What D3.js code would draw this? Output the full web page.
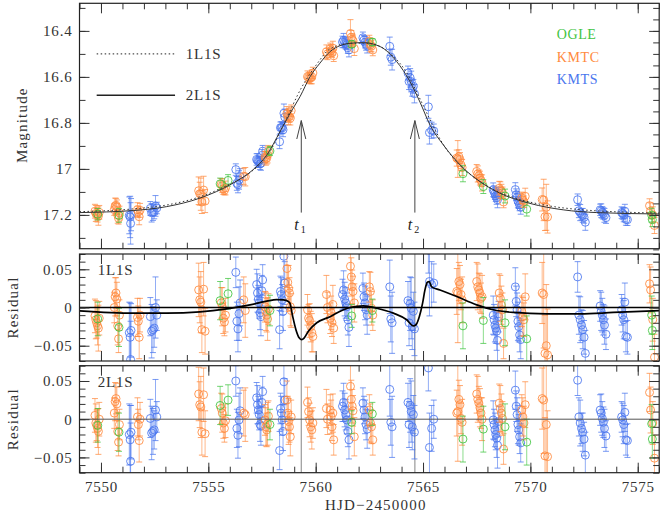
<!DOCTYPE html>
<html>
<head>
<meta charset="utf-8">
<script src="https://cdn.jsdelivr.net/npm/d3@7"></script>
<style>
    body { margin: 0; background: #fff; }
    text { font-family: "Liberation Serif", "Times New Roman", serif; }
</style>
</head>
<body>
<div class="chart"></div>
<script>
// rows: [HJD-2450000, magnitude, mag error, residual 1L1S, residual 2L1S, residual error]
const ogle = [
    [7549.85, 17.197, 0.025, -0.015, -0.008, 0.022],
    [7550.84, 17.202, 0.03, -0.026, -0.017, 0.025],
    [7555.55, 17.065, 0.025, 0.009, 0.018, 0.025],
    [7555.92, 17.050, 0.025, 0.018, 0.025, 0.02],
    [7557.87, 16.922, 0.02, -0.004, -0.007, 0.02],
    [7561.68, 16.458, 0.015, -0.011, -0.004, 0.015],
    [7562.64, 16.449, 0.015, -0.004, 0.007, 0.015],
    [7566.86, 17.021, 0.035, -0.024, -0.026, 0.03],
    [7567.81, 17.077, 0.03, -0.017, -0.013, 0.03],
    [7568.82, 17.118, 0.03, -0.02, -0.01, 0.03],
    [7569.83, 17.175, 0.03, -0.041, -0.03, 0.03],
    [7575.65, 17.201, 0.03, -0.01, -0.006, 0.025],
    [7575.68, 17.221, 0.03, -0.03, -0.026, 0.025]
];

const kmtc = [
    [7549.72, 17.184, 0.03, -0.011, 0.005, 0.022],
    [7549.76, 17.194, 0.035, -0.016, -0.005, 0.025],
    [7549.80, 17.197, 0.025, -0.020, -0.008, 0.02],
    [7549.84, 17.201, 0.03, -0.024, -0.012, 0.025],
    [7549.88, 17.205, 0.04, -0.027, -0.016, 0.03],
    [7549.92, 17.189, 0.03, -0.014, 0.0, 0.022],
    [7550.62, 17.177, 0.025, 0.0, 0.008, 0.02],
    [7550.66, 17.162, 0.035, 0.014, 0.023, 0.025],
    [7550.70, 17.158, 0.03, 0.019, 0.027, 0.02],
    [7550.74, 17.165, 0.03, 0.011, 0.02, 0.022],
    [7550.78, 17.201, 0.035, -0.024, -0.016, 0.025],
    [7550.82, 17.215, 0.025, -0.041, -0.03, 0.018],
    [7550.86, 17.192, 0.03, -0.01, -0.007, 0.02],
    [7551.70, 17.177, 0.03, -0.013, 0.003, 0.025],
    [7551.74, 17.187, 0.025, -0.018, -0.007, 0.02],
    [7551.78, 17.208, 0.035, -0.039, -0.028, 0.028],
    [7551.82, 17.180, 0.03, -0.01, 0.0, 0.022],
    [7554.55, 17.095, 0.06, 0.023, 0.033, 0.035],
    [7554.60, 17.108, 0.05, 0.01, 0.019, 0.03],
    [7554.65, 17.110, 0.07, 0.007, 0.016, 0.04],
    [7554.70, 17.144, 0.05, -0.029, -0.017, 0.03],
    [7554.78, 17.092, 0.06, 0.024, 0.032, 0.035],
    [7554.85, 17.140, 0.05, -0.031, -0.019, 0.03],
    [7555.60, 17.067, 0.025, 0.006, 0.014, 0.02],
    [7555.65, 17.073, 0.03, 0.001, 0.008, 0.025],
    [7555.70, 17.086, 0.025, -0.014, -0.005, 0.02],
    [7555.75, 17.093, 0.02, -0.019, -0.012, 0.018],
    [7555.80, 17.083, 0.03, -0.01, -0.002, 0.022],
    [7556.65, 17.032, 0.035, 0.01, 0.008, 0.03],
    [7556.72, 17.034, 0.04, -0.004, 0.006, 0.035],
    [7557.64, 16.949, 0.025, 0.001, -0.001, 0.02],
    [7557.68, 16.954, 0.03, -0.005, -0.01, 0.025],
    [7557.72, 16.954, 0.025, -0.01, -0.014, 0.022],
    [7557.76, 16.939, 0.035, -0.015, -0.006, 0.028],
    [7557.80, 16.923, 0.025, -0.002, 0.004, 0.02],
    [7558.66, 16.759, 0.03, 0.051, 0.025, 0.025],
    [7558.70, 16.769, 0.025, 0.033, 0.008, 0.022],
    [7558.74, 16.773, 0.035, 0.025, -0.003, 0.03],
    [7558.78, 16.773, 0.025, 0.019, -0.01, 0.02],
    [7558.82, 16.779, 0.03, 0.001, -0.023, 0.025],
    [7558.86, 16.747, 0.025, -0.004, 0.003, 0.022],
    [7559.62, 16.599, 0.025, -0.003, 0.022, 0.02],
    [7559.67, 16.602, 0.02, -0.014, 0.01, 0.018],
    [7559.72, 16.604, 0.025, -0.017, -0.001, 0.022],
    [7559.77, 16.605, 0.025, -0.025, -0.01, 0.02],
    [7559.82, 16.600, 0.03, -0.033, -0.014, 0.025],
    [7559.87, 16.583, 0.025, -0.038, -0.005, 0.02],
    [7560.50, 16.491, 0.03, 0.017, 0.014, 0.025],
    [7560.55, 16.500, 0.025, 0.0, 0.0, 0.02],
    [7560.68, 16.478, 0.025, -0.014, 0.012, 0.02],
    [7560.72, 16.485, 0.025, -0.007, 0.003, 0.022],
    [7560.76, 16.495, 0.02, -0.02, -0.01, 0.018],
    [7560.80, 16.475, 0.03, 0.004, 0.008, 0.025],
    [7560.84, 16.508, 0.025, -0.027, -0.027, 0.02],
    [7561.62, 16.411, 0.06, 0.054, 0.043, 0.03],
    [7561.66, 16.428, 0.03, 0.04, 0.026, 0.025],
    [7561.70, 16.437, 0.025, 0.027, 0.017, 0.022],
    [7561.74, 16.443, 0.025, 0.021, 0.011, 0.02],
    [7561.80, 16.477, 0.03, 0.006, -0.023, 0.025],
    [7562.50, 16.444, 0.025, 0.027, 0.012, 0.02],
    [7562.55, 16.461, 0.03, 0.021, -0.005, 0.025],
    [7562.60, 16.466, 0.025, -0.001, -0.01, 0.022],
    [7562.66, 16.483, 0.025, -0.01, -0.027, 0.02],
    [7566.57, 16.953, 0.035, 0.021, 0.008, 0.03],
    [7566.62, 16.957, 0.08, 0.019, 0.01, 0.065],
    [7566.67, 16.947, 0.03, 0.034, 0.026, 0.025],
    [7566.72, 16.959, 0.03, 0.03, 0.019, 0.025],
    [7566.77, 16.983, 0.025, 0.017, 0.001, 0.02],
    [7566.82, 16.994, 0.035, 0.01, -0.004, 0.03],
    [7567.50, 17.011, 0.03, 0.034, 0.033, 0.025],
    [7567.55, 17.022, 0.035, 0.027, 0.026, 0.03],
    [7567.60, 17.030, 0.025, 0.023, 0.021, 0.022],
    [7567.65, 17.040, 0.03, 0.019, 0.015, 0.025],
    [7567.70, 17.050, 0.025, 0.012, 0.008, 0.02],
    [7567.75, 17.061, 0.035, 0.014, 0.0, 0.028],
    [7568.55, 17.084, 0.03, 0.019, 0.021, 0.025],
    [7568.60, 17.091, 0.035, 0.012, 0.014, 0.03],
    [7568.65, 17.097, 0.03, 0.003, 0.008, 0.025],
    [7568.70, 17.104, 0.025, -0.003, 0.001, 0.022],
    [7568.75, 17.144, 0.025, -0.047, -0.039, 0.02],
    [7569.60, 17.126, 0.025, -0.005, 0.012, 0.02],
    [7569.65, 17.135, 0.03, -0.012, 0.003, 0.025],
    [7569.70, 17.143, 0.025, -0.016, -0.005, 0.022],
    [7569.76, 17.119, 0.035, 0.014, 0.019, 0.03],
    [7570.55, 17.133, 0.05, 0.019, 0.027, 0.04],
    [7570.62, 17.135, 0.09, 0.017, 0.025, 0.07],
    [7570.68, 17.208, 0.06, -0.06, -0.048, 0.05],
    [7570.74, 17.167, 0.1, -0.05, -0.007, 0.08],
    [7570.80, 17.209, 0.07, -0.062, -0.049, 0.06],
    [7575.55, 17.160, 0.03, 0.031, 0.035, 0.025],
    [7575.60, 17.183, 0.035, 0.023, 0.012, 0.03],
    [7575.70, 17.200, 0.035, -0.016, -0.005, 0.028],
    [7575.78, 17.246, 0.035, -0.065, -0.051, 0.03]
];

const kmts = [
    [7551.32, 17.202, 0.08, -0.033, -0.02, 0.04],
    [7551.36, 17.209, 0.09, -0.039, -0.027, 0.045],
    [7551.40, 17.199, 0.07, -0.03, -0.017, 0.035],
    [7551.38, 17.237, 0.09, -0.068, -0.055, 0.05],
    [7552.30, 17.172, 0.03, -0.012, 0.001, 0.025],
    [7552.36, 17.191, 0.04, -0.031, -0.018, 0.035],
    [7552.42, 17.189, 0.035, -0.029, -0.016, 0.03],
    [7552.48, 17.187, 0.03, -0.027, -0.014, 0.025],
    [7552.54, 17.161, 0.045, 0.0, 0.012, 0.04],
    [7552.60, 17.170, 0.025, -0.01, 0.003, 0.02],
    [7556.28, 17.003, 0.025, 0.046, 0.05, 0.02],
    [7556.33, 17.063, 0.03, -0.018, -0.012, 0.025],
    [7556.38, 17.069, 0.035, -0.028, -0.021, 0.03],
    [7556.43, 17.048, 0.04, -0.008, -0.001, 0.035],
    [7556.48, 17.034, 0.035, 0.006, 0.011, 0.03],
    [7557.25, 16.959, 0.025, 0.03, 0.028, 0.02],
    [7557.29, 16.964, 0.03, 0.019, 0.019, 0.025],
    [7557.33, 16.967, 0.022, 0.011, 0.012, 0.018],
    [7557.37, 16.969, 0.025, 0.006, 0.006, 0.02],
    [7557.41, 16.978, 0.025, -0.007, -0.007, 0.022],
    [7557.45, 16.976, 0.03, -0.012, -0.009, 0.025],
    [7557.49, 16.941, 0.025, 0.022, 0.022, 0.02],
    [7557.53, 16.923, 0.025, 0.036, 0.036, 0.02],
    [7558.32, 16.882, 0.03, -0.029, -0.041, 0.025],
    [7558.36, 16.821, 0.025, 0.021, 0.014, 0.02],
    [7558.40, 16.820, 0.025, 0.017, 0.008, 0.022],
    [7558.44, 16.822, 0.025, 0.01, -0.001, 0.02],
    [7558.48, 16.830, 0.03, -0.005, -0.016, 0.025],
    [7558.52, 16.758, 0.04, 0.067, 0.049, 0.03],
    [7558.56, 16.775, 0.035, 0.032, 0.025, 0.028],
    [7561.25, 16.448, 0.025, 0.017, 0.017, 0.02],
    [7561.30, 16.441, 0.03, 0.023, 0.022, 0.025],
    [7561.35, 16.449, 0.025, 0.011, 0.012, 0.022],
    [7561.40, 16.454, 0.025, 0.006, 0.006, 0.02],
    [7561.45, 16.460, 0.02, 0.001, -0.001, 0.018],
    [7561.50, 16.473, 0.025, -0.016, -0.016, 0.02],
    [7561.55, 16.483, 0.03, -0.026, -0.027, 0.025],
    [7562.20, 16.430, 0.025, 0.025, 0.021, 0.02],
    [7562.25, 16.440, 0.02, 0.014, 0.012, 0.018],
    [7562.30, 16.449, 0.025, 0.006, 0.003, 0.022],
    [7562.35, 16.459, 0.025, -0.003, -0.007, 0.02],
    [7562.40, 16.466, 0.03, -0.01, -0.013, 0.025],
    [7563.45, 16.467, 0.04, 0.027, 0.039, 0.035],
    [7563.50, 16.514, 0.035, -0.015, -0.004, 0.03],
    [7563.56, 16.525, 0.045, -0.02, -0.01, 0.04],
    [7564.30, 16.583, 0.03, 0.009, 0.022, 0.025],
    [7564.35, 16.620, 0.035, -0.02, -0.007, 0.03],
    [7564.40, 16.604, 0.04, 0.005, 0.018, 0.035],
    [7564.45, 16.620, 0.045, -0.001, 0.01, 0.04],
    [7564.50, 16.649, 0.035, -0.025, -0.01, 0.03],
    [7564.55, 16.641, 0.03, -0.005, 0.006, 0.025],
    [7564.60, 16.673, 0.04, -0.028, -0.017, 0.035],
    [7565.25, 16.730, 0.05, 0.075, 0.067, 0.03],
    [7565.30, 16.842, 0.05, 0.034, -0.037, 0.045],
    [7565.40, 16.832, 0.035, 0.03, -0.012, 0.03],
    [7565.50, 16.835, 0.03, 0.032, 0.0, 0.025],
    [7568.27, 17.091, 0.03, -0.01, -0.001, 0.025],
    [7568.31, 17.099, 0.025, -0.016, -0.007, 0.02],
    [7568.35, 17.108, 0.025, -0.023, -0.014, 0.022],
    [7568.39, 17.117, 0.025, -0.027, -0.02, 0.02],
    [7568.43, 17.124, 0.03, -0.031, -0.025, 0.025],
    [7568.47, 17.134, 0.035, -0.043, -0.034, 0.03],
    [7568.52, 17.105, 0.025, -0.012, -0.003, 0.02],
    [7569.30, 17.090, 0.03, 0.027, 0.038, 0.025],
    [7569.34, 17.112, 0.025, 0.008, 0.017, 0.02],
    [7569.38, 17.124, 0.025, -0.003, 0.006, 0.022],
    [7569.42, 17.139, 0.03, -0.018, -0.007, 0.025],
    [7569.46, 17.147, 0.025, -0.025, -0.014, 0.02],
    [7569.50, 17.157, 0.025, -0.036, -0.023, 0.022],
    [7569.55, 17.167, 0.03, -0.042, -0.031, 0.025],
    [7572.20, 17.134, 0.025, 0.04, 0.051, 0.02],
    [7572.26, 17.182, 0.03, -0.01, 0.003, 0.025],
    [7572.32, 17.190, 0.035, -0.016, -0.005, 0.03],
    [7572.38, 17.197, 0.025, -0.023, -0.012, 0.02],
    [7572.44, 17.202, 0.03, -0.029, -0.017, 0.025],
    [7572.50, 17.211, 0.025, -0.039, -0.026, 0.022],
    [7572.56, 17.232, 0.035, -0.06, -0.047, 0.03],
    [7573.25, 17.178, 0.025, 0.002, 0.012, 0.02],
    [7573.30, 17.182, 0.03, -0.005, 0.008, 0.025],
    [7573.35, 17.189, 0.025, -0.01, 0.001, 0.022],
    [7573.40, 17.194, 0.025, -0.016, -0.004, 0.02],
    [7573.45, 17.202, 0.03, -0.023, -0.012, 0.025],
    [7573.52, 17.212, 0.025, -0.035, -0.022, 0.02],
    [7574.25, 17.190, 0.025, -0.003, 0.003, 0.02],
    [7574.30, 17.194, 0.025, -0.01, -0.001, 0.022],
    [7574.35, 17.200, 0.03, -0.016, -0.007, 0.025],
    [7574.40, 17.184, 0.03, 0.007, 0.009, 0.025],
    [7574.45, 17.220, 0.025, -0.038, -0.027, 0.02],
    [7574.52, 17.221, 0.025, -0.039, -0.028, 0.022]
];

// model light curves (top panel)
const model2T = [7549.0, 7551.5, 7553.06, 7554.61, 7556.15, 7557.08, 7557.72, 7558.34, 7558.81, 7559.27,
    7559.74, 7560.2, 7560.67, 7561.6, 7562.22, 7563.0, 7563.77, 7564.39, 7564.86, 7565.33,
    7565.94, 7566.88, 7567.65, 7568.43, 7569.98, 7571.53, 7573.09, 7576.0];
const model2Mag = [17.19, 17.181, 17.164, 17.127, 17.062, 17.004, 16.94, 16.838, 16.758, 16.686,
    16.599, 16.54, 16.49, 16.454, 16.451, 16.468, 16.533, 16.62, 16.71, 16.81,
    16.895, 16.997, 17.055, 17.099, 17.15, 17.178, 17.19, 17.196];

const model1T = [7549.0, 7551.5, 7553.06, 7554.61, 7555.86, 7556.94, 7557.72, 7558.49, 7559.35, 7560.05,
    7560.67, 7561.6, 7562.22, 7562.84, 7563.62, 7564.24, 7564.83, 7565.4, 7565.79, 7566.57,
    7567.5, 7568.27, 7569.2, 7570.76, 7572.31, 7573.86, 7576.0];
const model1Mag = [17.186, 17.174, 17.157, 17.121, 17.073, 17.016, 16.948, 16.81, 16.645, 16.545,
    16.478, 16.454, 16.453, 16.462, 16.51, 16.582, 16.69, 16.80, 16.87, 16.97,
    17.045, 17.089, 17.124, 17.159, 17.177, 17.186, 17.192];

// 2L1S - 1L1S difference shown in the 1L1S residual panel
const diffT = [7549.0, 7551.5, 7553.06, 7554.61, 7555.86, 7556.94, 7557.72, 7558.18, 7558.49, 7558.73,
    7558.8, 7558.93, 7559.08, 7559.24, 7559.35, 7559.46, 7559.66, 7560.05, 7560.67, 7561.14,
    7561.6, 7562.22, 7562.84, 7563.62, 7564.24, 7564.55, 7564.67, 7564.83, 7564.98, 7565.09,
    7565.2, 7565.29, 7565.4, 7565.79, 7566.57, 7567.5, 7568.27, 7569.2, 7570.76, 7572.31,
    7573.86, 7576.0];
const diffRes = [-0.0043, -0.0074, -0.0074, -0.0057, -0.0017, 0.0035, 0.0083, 0.0104, 0.010, 0.0078,
    0.0057, -0.0117, -0.029, -0.040, -0.042, -0.040, -0.031, -0.020, -0.012, -0.005,
    0.0, 0.002, -0.001, -0.0074, -0.016, -0.024, -0.0226, -0.0117, 0.0057, 0.023,
    0.033, 0.034, 0.027, 0.023, 0.0143, 0.0035, -0.003, -0.0065, -0.0083, -0.0083,
    -0.0065, -0.004];

const anomalyTimes = [7559.33, 7564.62];
const xMajorTicks = [7550, 7555, 7560, 7565, 7570, 7575];
const magMajorTicks = [16.4, 16.6, 16.8, 17, 17.2];
const resMajorTicks = [-0.05, 0, 0.05];

function drawLightCurve() {

    // Dimensions
    const dimensions = {
        width: 660,
        height: 517,
        left: 79.5,
        right: 659.2
    };

    const svg = d3.select('.chart')
        .append('svg')
        .attr('width', dimensions.width)
        .attr('height', dimensions.height);

    // Scales
    const xScale = d3.scaleLinear()
        .domain([7549, 7576])
        .range([dimensions.left, dimensions.right]);

    const magScale = d3.scaleLinear()
        .domain([16.28, 17.347])
        .range([3.3, 248.7]);

    const res1Scale = d3.scaleLinear()
        .domain([-0.07, 0.07])
        .range([361, 254]);

    const res2Scale = d3.scaleLinear()
        .domain([-0.07, 0.07])
        .range([472.7, 365.7]);

    const colors = { OGLE: '#3fc43f', KMTC: '#ff8a3d', KMTS: '#4a76ee' };
    const datasets = [
        { name: 'KMTS', rows: kmts },
        { name: 'KMTC', rows: kmtc },
        { name: 'OGLE', rows: ogle }
    ];

    const xDays = d3.range(7549, 7577);
    const textColor = '#333';
    const magFormat = d => String(+d.toFixed(2));
    const resFormat = d => d === 0 ? '0' : d3.format('.2f')(d);

    // Frame + ticks for one panel
    function drawFrame(yScale, yMajor, yFormat, yMinorLeft, yMinorRight, xLabels) {
        const [y0, y1] = yScale.range();
        const top = Math.min(y0, y1), bottom = Math.max(y0, y1);
        const g = svg.append('g').attr('color', textColor);

        const styleAxis = a => {
            a.select('.domain').remove();
            a.attr('font-family', null).attr('font-size', 15);
            a.selectAll('text').attr('letter-spacing', 0.8);
        };

        [[xDays, 6], [xMajorTicks, 10]].forEach(([vals, size]) => {
            g.append('g').attr('transform', `translate(0,${top})`)
                .call(d3.axisTop(xScale).tickValues(vals).tickSize(-size).tickFormat(''))
                .call(styleAxis);
            g.append('g').attr('transform', `translate(0,${bottom})`)
                .call(d3.axisBottom(xScale).tickValues(vals).tickSize(-size).tickFormat(''))
                .call(styleAxis);
        });

        g.append('g').attr('transform', `translate(${dimensions.left},0)`)
            .call(d3.axisLeft(yScale).tickValues(yMinorLeft).tickSize(-6).tickFormat(''))
            .call(styleAxis);
        g.append('g').attr('transform', `translate(${dimensions.left},0)`)
            .call(d3.axisLeft(yScale).tickValues(yMajor).tickSize(-10).tickPadding(7).tickFormat(yFormat))
            .call(styleAxis);
        g.append('g').attr('transform', `translate(${dimensions.right},0)`)
            .call(d3.axisRight(yScale).tickValues(yMinorRight).tickSize(-6).tickFormat(''))
            .call(styleAxis);
        g.append('g').attr('transform', `translate(${dimensions.right},0)`)
            .call(d3.axisRight(yScale).tickValues(yMajor).tickSize(-10).tickFormat(''))
            .call(styleAxis);

        if (xLabels) {
            g.append('g').attr('transform', `translate(0,${bottom})`)
                .call(d3.axisBottom(xScale).tickValues(xMajorTicks).tickSize(0).tickPadding(9).tickFormat(d3.format('d')))
                .call(styleAxis);
        }

        g.append('rect')
            .attr('x', dimensions.left)
            .attr('y', top)
            .attr('width', dimensions.right - dimensions.left)
            .attr('height', bottom - top)
            .attr('fill', 'none')
            .attr('stroke', '#222')
            .attr('stroke-width', 1.2);
    }

    // Clip paths
    const defs = svg.append('defs');
    const clipFor = (id, yScale) => {
        const [y0, y1] = yScale.range();
        defs.append('clipPath').attr('id', id)
            .append('rect')
            .attr('x', dimensions.left)
            .attr('y', Math.min(y0, y1))
            .attr('width', dimensions.right - dimensions.left)
            .attr('height', Math.abs(y1 - y0));
        return `url(#${id})`;
    };

    // Data points with error bars
    function drawPoints(g, yScale, yAccessor, errAccessor) {
        datasets.forEach(set => {
            const color = colors[set.name];
            const group = g.append('g');
            group.selectAll('line.bar')
                .data(set.rows)
                .join('line')
                .attr('class', 'bar')
                .attr('x1', d => xScale(d[0]))
                .attr('x2', d => xScale(d[0]))
                .attr('y1', d => yScale(yAccessor(d) - errAccessor(d)))
                .attr('y2', d => yScale(yAccessor(d) + errAccessor(d)))
                .attr('stroke', color)
                .attr('stroke-opacity', 0.6);
            [-1, 1].forEach(sign => {
                group.selectAll(`line.cap${sign}`)
                    .data(set.rows)
                    .join('line')
                    .attr('class', `cap${sign}`)
                    .attr('x1', d => xScale(d[0]) - 3)
                    .attr('x2', d => xScale(d[0]) + 3)
                    .attr('y1', d => yScale(yAccessor(d) + sign * errAccessor(d)))
                    .attr('y2', d => yScale(yAccessor(d) + sign * errAccessor(d)))
                    .attr('stroke', color)
                    .attr('stroke-opacity', 0.75);
            });
            group.selectAll('circle')
                .data(set.rows)
                .join('circle')
                .attr('cx', d => xScale(d[0]))
                .attr('cy', d => yScale(yAccessor(d)))
                .attr('r', 4)
                .attr('fill', 'none')
                .attr('stroke', color)
                .attr('stroke-opacity', 0.85);
        });
    }

    // ---- Top panel: magnitude
    const topClip = clipFor('clipTop', magScale);
    const topData = svg.append('g').attr('clip-path', topClip);
    drawPoints(topData, magScale, d => d[1], d => d[2]);

    const model2Line = d3.line()
        .x(i => xScale(model2T[i]))
        .y(i => magScale(model2Mag[i]))
        .curve(d3.curveMonotoneX);
    const model1Line = d3.line()
        .x(i => xScale(model1T[i]))
        .y(i => magScale(model1Mag[i]))
        .curve(d3.curveMonotoneX);

    topData.append('path')
        .attr('d', model1Line(d3.range(model1T.length)))
        .attr('fill', 'none')
        .attr('stroke', '#333')
        .attr('stroke-width', 1)
        .attr('stroke-dasharray', '1.5,2.5');
    topData.append('path')
        .attr('d', model2Line(d3.range(model2T.length)))
        .attr('fill', 'none')
        .attr('stroke', '#333')
        .attr('stroke-width', 1);

    drawFrame(magScale, magMajorTicks, magFormat, d3.range(16.3, 17.35, 0.1), d3.range(16.3, 17.35, 0.05), false);

    // Arrows t1, t2
    anomalyTimes.forEach((t, i) => {
        const ax = xScale(t);
        const arrow = svg.append('g').attr('stroke', '#444').attr('fill', 'none').attr('stroke-width', 1);
        arrow.append('line').attr('x1', ax).attr('x2', ax).attr('y1', magScale(16.79)).attr('y2', magScale(17.19));
        arrow.append('polyline')
            .attr('points', `${ax - 4.5},${magScale(16.87)} ${ax},${magScale(16.79)} ${ax + 4.5},${magScale(16.87)}`);
        const label = svg.append('text')
            .attr('x', ax - 7)
            .attr('y', magScale(17.265))
            .attr('fill', '#222')
            .attr('font-size', 16)
            .attr('font-style', 'italic');
        label.append('tspan').text('t');
        label.append('tspan').attr('dx', 2).attr('dy', 3).attr('font-size', 10).attr('font-style', 'normal').text(i + 1);
    });

    // Model legend
    const legend = svg.append('g');
    [['1L1S', '1.5,2.5', 16.5, 1], ['2L1S', null, 16.68, 1.5]].forEach(([name, dash, m, w]) => {
        legend.append('line')
            .attr('x1', xScale(7549.8)).attr('x2', xScale(7553.45))
            .attr('y1', magScale(m)).attr('y2', magScale(m))
            .attr('stroke', '#222').attr('stroke-width', w)
            .attr('stroke-dasharray', dash);
        legend.append('text')
            .attr('x', xScale(7553.95))
            .attr('y', magScale(m) + 5)
            .attr('font-size', 15)
            .attr('letter-spacing', 0.8)
            .attr('fill', textColor)
            .text(name);
    });

    // Observatory legend
    ['OGLE', 'KMTC', 'KMTS'].forEach((name, i) => {
        svg.append('text')
            .attr('x', xScale(7571.23))
            .attr('y', 39 + i * 22.5)
            .attr('font-size', 14)
            .attr('letter-spacing', 0.6)
            .attr('fill', colors[name])
            .text(name);
    });

    // ---- Residual panels
    [[res1Scale, 3, 'clipRes1', '1L1S', true], [res2Scale, 4, 'clipRes2', '2L1S', false]].forEach(([yScale, col, id, label, showDiff]) => {
        const clip = clipFor(id, yScale);
        const g = svg.append('g').attr('clip-path', clip);

        anomalyTimes.forEach(t => {
            g.append('line')
                .attr('x1', xScale(t)).attr('x2', xScale(t))
                .attr('y1', yScale(-0.07)).attr('y2', yScale(0.07))
                .attr('stroke', '#999').attr('stroke-width', 1.2);
        });

        drawPoints(g, yScale, d => d[col], d => d[5]);

        g.append('line')
            .attr('x1', dimensions.left).attr('x2', dimensions.right)
            .attr('y1', yScale(0)).attr('y2', yScale(0))
            .attr('stroke', showDiff ? '#000' : '#555')
            .attr('stroke-width', showDiff ? 1.5 : 1);

        if (showDiff) {
            const diffLine = d3.line()
                .x(i => xScale(diffT[i]))
                .y(i => yScale(diffRes[i]))
                .curve(d3.curveMonotoneX);
            g.append('path')
                .attr('d', diffLine(d3.range(diffT.length)))
                .attr('fill', 'none')
                .attr('stroke', '#000')
                .attr('stroke-width', 1.7);
        }

        drawFrame(yScale, resMajorTicks, resFormat, d3.range(-0.07, 0.0701, 0.01), d3.range(-0.07, 0.0701, 0.01), !showDiff);

        svg.append('text')
            .attr('x', xScale(7549.85))
            .attr('y', yScale(0.05) + 6)
            .attr('font-size', 15)
            .attr('letter-spacing', 0.8)
            .attr('fill', textColor)
            .text(label);

        svg.append('text')
            .attr('transform', `translate(18,${yScale(0)}) rotate(-90)`)
            .attr('text-anchor', 'middle')
            .attr('font-size', 15)
            .attr('letter-spacing', 1.2)
            .attr('fill', textColor)
            .text('Residual');
    });

    // Axis titles
    svg.append('text')
        .attr('transform', `translate(27,${magScale(16.81)}) rotate(-90)`)
        .attr('text-anchor', 'middle')
        .attr('font-size', 15)
        .attr('letter-spacing', 1.2)
        .attr('fill', textColor)
        .text('Magnitude');

    svg.append('text')
        .attr('x', xScale(7562.8))
        .attr('y', 510)
        .attr('text-anchor', 'middle')
        .attr('font-size', 15)
        .attr('letter-spacing', 1.2)
        .attr('fill', textColor)
        .text('HJD\u22122450000');
}

drawLightCurve();
</script>
</body>
</html>
